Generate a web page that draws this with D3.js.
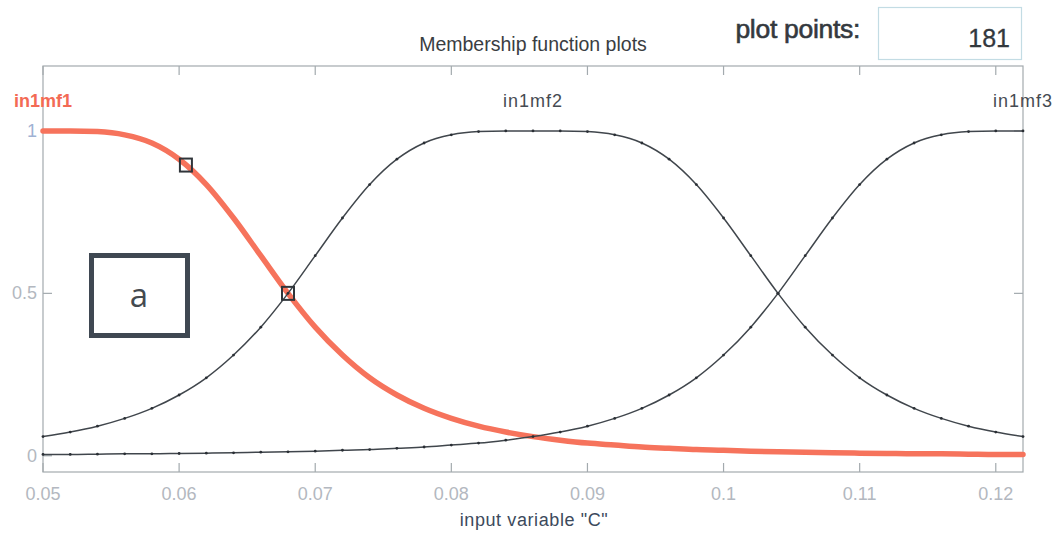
<!DOCTYPE html>
<html>
<head>
<meta charset="utf-8">
<script src="https://cdn.jsdelivr.net/npm/d3@7"></script>
<style>
  html, body { margin: 0; padding: 0; background: #ffffff; }
  svg { display: block; font-family: "Liberation Sans", Arial, sans-serif; }
</style>
</head>
<body>
<svg id="chart" width="1058" height="534"></svg>
<script>
// Input variable "C" sampled every 0.002
const xSamples = [
  0.050, 0.052, 0.054, 0.056, 0.058, 0.060, 0.062, 0.064, 0.066, 0.068,
  0.070, 0.072, 0.074, 0.076, 0.078, 0.080, 0.082, 0.084, 0.086, 0.088,
  0.090, 0.092, 0.094, 0.096, 0.098, 0.100, 0.102, 0.104, 0.106, 0.108,
  0.110, 0.112, 0.114, 0.116, 0.118, 0.120, 0.122
];

// Membership degrees of the three functions at those samples
const in1mf1 = [
  1.000, 1.000, 0.998, 0.988, 0.963, 0.913, 0.835, 0.732, 0.616, 0.500,
  0.396, 0.310, 0.240, 0.187, 0.146, 0.115, 0.091, 0.073, 0.059, 0.048,
  0.039, 0.033, 0.027, 0.023, 0.019, 0.017, 0.014, 0.012, 0.011, 0.009,
  0.008, 0.007, 0.006, 0.006, 0.005, 0.004, 0.004
];
const in1mf2 = [
  0.059, 0.073, 0.091, 0.115, 0.146, 0.187, 0.240, 0.310, 0.396, 0.500,
  0.616, 0.732, 0.835, 0.913, 0.963, 0.988, 0.998, 1.000, 1.000, 1.000,
  0.998, 0.988, 0.963, 0.913, 0.835, 0.732, 0.616, 0.500, 0.396, 0.310,
  0.240, 0.187, 0.146, 0.115, 0.091, 0.073, 0.059
];
const in1mf3 = [
  0.004, 0.004, 0.005, 0.006, 0.006, 0.007, 0.008, 0.009, 0.011, 0.012,
  0.014, 0.017, 0.019, 0.023, 0.027, 0.033, 0.039, 0.048, 0.059, 0.073,
  0.091, 0.115, 0.146, 0.187, 0.240, 0.310, 0.396, 0.500, 0.616, 0.732,
  0.835, 0.913, 0.963, 0.988, 0.998, 1.000, 1.000
];

const mfNames = ["in1mf1", "in1mf2", "in1mf3"];
const mfCenters = [0.050, 0.086, 0.122];

// Drag handles on the selected function
const handleX = [0.0605, 0.068];
const handleY = [0.895, 0.500];

const xTicks = [0.05, 0.06, 0.07, 0.08, 0.09, 0.10, 0.11, 0.12];
const xTickLabels = ["0.05", "0.06", "0.07", "0.08", "0.09", "0.1", "0.11", "0.12"];
const yTicks = [0, 0.5, 1];
const yTickLabels = ["0", "0.5", "1"];

const plotPoints = "181";
const xDomain = [0.05, 0.122];
const yDomain = [-0.05, 1.2];

const svg = d3.select("#chart");
const plotLeft = 43, plotRight = 1023, plotTop = 66, plotBottom = 472;

const x = d3.scaleLinear().domain(xDomain).range([plotLeft, plotRight]);
const y = d3.scaleLinear().domain(yDomain).range([plotBottom, plotTop]);

// Header
svg.append("text")
  .attr("x", 533).attr("y", 51)
  .attr("text-anchor", "middle")
  .attr("font-size", 19.5)
  .attr("fill", "#3a3d42")
  .text("Membership function plots");

svg.append("text")
  .attr("x", 860).attr("y", 38)
  .attr("text-anchor", "end")
  .attr("font-size", 26.5)
  .attr("fill", "#34393e")
  .attr("stroke", "#34393e")
  .attr("stroke-width", 0.6)
  .attr("letter-spacing", -0.3)
  .text("plot points:");

svg.append("rect")
  .attr("x", 878.5).attr("y", 7.5)
  .attr("width", 143).attr("height", 52)
  .attr("fill", "#ffffff")
  .attr("stroke", "#c3dce4")
  .attr("stroke-width", 1.2);

svg.append("text")
  .attr("x", 1010).attr("y", 47)
  .attr("text-anchor", "end")
  .attr("font-size", 25)
  .attr("fill", "#33383d")
  .attr("stroke", "#33383d")
  .attr("stroke-width", 0.3)
  .text(plotPoints);

// Axes box with inward ticks
const axisColor = "#a3aaae";
const g = svg.append("g");

g.append("rect")
  .attr("x", plotLeft).attr("y", plotTop)
  .attr("width", plotRight - plotLeft).attr("height", plotBottom - plotTop)
  .attr("fill", "none")
  .attr("stroke", axisColor)
  .attr("stroke-width", 1.2);

g.selectAll(".xt-bottom").data(xTicks).join("line")
  .attr("class", "xt-bottom")
  .attr("x1", d => x(d)).attr("x2", d => x(d))
  .attr("y1", plotBottom).attr("y2", plotBottom - 9)
  .attr("stroke", axisColor).attr("stroke-width", 1.2);
g.selectAll(".xt-top").data(xTicks).join("line")
  .attr("class", "xt-top")
  .attr("x1", d => x(d)).attr("x2", d => x(d))
  .attr("y1", plotTop).attr("y2", plotTop + 9)
  .attr("stroke", axisColor).attr("stroke-width", 1.2);
g.selectAll(".yt-left").data(yTicks).join("line")
  .attr("class", "yt-left")
  .attr("x1", plotLeft).attr("x2", plotLeft + 9)
  .attr("y1", d => y(d)).attr("y2", d => y(d))
  .attr("stroke", axisColor).attr("stroke-width", 1.2);
g.selectAll(".yt-right").data(yTicks).join("line")
  .attr("class", "yt-right")
  .attr("x1", plotRight).attr("x2", plotRight - 9)
  .attr("y1", d => y(d)).attr("y2", d => y(d))
  .attr("stroke", axisColor).attr("stroke-width", 1.2);

g.selectAll(".xl").data(xTicks).join("text")
  .attr("class", "xl")
  .attr("x", d => x(d)).attr("y", 500)
  .attr("text-anchor", "middle")
  .attr("font-size", 18)
  .attr("fill", "#b3b8c0")
  .text((d, i) => xTickLabels[i]);

g.selectAll(".yl").data(yTicks).join("text")
  .attr("class", "yl")
  .attr("x", 37).attr("y", d => y(d) + 6)
  .attr("text-anchor", "end")
  .attr("font-size", 18)
  .attr("fill", (d, i) => i === 2 ? "#9fb2d4" : "#b3b8c0")
  .text((d, i) => yTickLabels[i]);

svg.append("text")
  .attr("x", 534).attr("y", 526)
  .attr("text-anchor", "middle")
  .attr("font-size", 18)
  .attr("letter-spacing", 0.6)
  .attr("fill", "#3c4a5c")
  .text('input variable "C"');

// Membership curves
const line = d3.line()
  .x((d, i) => x(xSamples[i]))
  .y(d => y(d))
  .curve(d3.curveMonotoneX);

svg.append("path")
  .datum(in1mf1)
  .attr("d", line)
  .attr("fill", "none")
  .attr("stroke", "#f6735c")
  .attr("stroke-width", 5.5)
  .attr("stroke-linecap", "round");

[in1mf2, in1mf3].forEach(series => {
  svg.append("path")
    .datum(series)
    .attr("d", line)
    .attr("fill", "none")
    .attr("stroke", "#40464c")
    .attr("stroke-width", 1.5);
  svg.append("g").selectAll("circle").data(series).join("circle")
    .attr("cx", (d, i) => x(xSamples[i]))
    .attr("cy", d => y(d))
    .attr("r", 1.4)
    .attr("fill", "#2a2f35");
});

// Function names above the curves
svg.selectAll(".mfname").data(mfNames).join("text")
  .attr("class", "mfname")
  .attr("x", (d, i) => x(mfCenters[i]))
  .attr("y", 107)
  .attr("text-anchor", "middle")
  .attr("font-size", 18)
  .attr("letter-spacing", (d, i) => i === 0 ? 0 : 1)
  .attr("font-weight", (d, i) => i === 0 ? "bold" : "normal")
  .attr("fill", (d, i) => i === 0 ? "#f36a55" : "#464b52")
  .text(d => d);

// Handles on the selected function
svg.selectAll(".handle").data(handleX).join("rect")
  .attr("class", "handle")
  .attr("x", d => x(d) - 6)
  .attr("y", (d, i) => y(handleY[i]) - 6.5)
  .attr("width", 12).attr("height", 13)
  .attr("fill", "none")
  .attr("stroke", "#30353a")
  .attr("stroke-width", 2);

// Annotation box
svg.append("rect")
  .attr("x", 91.5).attr("y", 255.5)
  .attr("width", 96).attr("height", 80)
  .attr("fill", "#ffffff")
  .attr("stroke", "#3f4852")
  .attr("stroke-width", 5);
svg.append("text")
  .attr("x", 139).attr("y", 307)
  .attr("text-anchor", "middle")
  .attr("font-family", "'Open Sans', sans-serif")
  .attr("font-size", 33)
  .attr("fill", "#444a50")
  .text("a");
</script>
</body>
</html>
